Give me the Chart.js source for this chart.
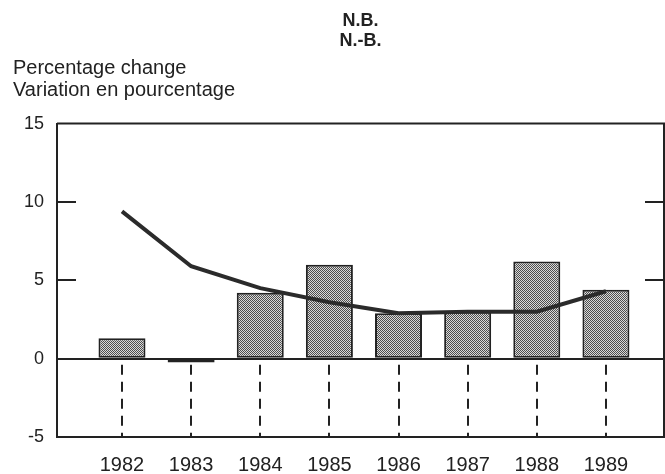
<!DOCTYPE html>
<html>
<head>
<meta charset="utf-8">
<script src="https://cdn.jsdelivr.net/npm/chart.js@4/dist/chart.umd.min.js"></script>
<style>
  html, body { margin: 0; padding: 0; background: #fff; }
  #wrap { width: 665px; height: 474px; position: relative; }
</style>
</head>
<body>
<div id="wrap"><canvas id="myChart"></canvas></div>
<script>
Chart.defaults.font.family = "'Liberation Sans', Arial, Helvetica, sans-serif";
Chart.defaults.color = "#222";

const years = [1982, 1983, 1984, 1985, 1986, 1987, 1988, 1989];
const barValues = [1.3, -0.25, 4.2, 6.0, 2.9, 3.0, 6.2, 4.4];
const lineValues = [9.4, 5.9, 4.5, 3.6, 2.9, 3.0, 3.0, 4.3];
const yTicks = [-5, 0, 5, 10, 15];
const innerTicks = [5, 10];

const ink = "#222";

// stippled grey fill like the printed bars
function makePattern() {
  const c = document.createElement("canvas");
  c.width = 4;
  c.height = 4;
  const p = c.getContext("2d");
  p.fillStyle = "#dadada";
  p.fillRect(0, 0, 4, 4);
  p.fillStyle = "#4e4e4e";
  for (let i = 0; i < 4; i++) {
    for (let j = 0; j < 4; j++) {
      if ((i + j) % 2 === 0) p.fillRect(i, j, 1, 1);
    }
  }
  return p.createPattern(c, "repeat");
}

const framePlugin = {
  id: "frame",
  beforeDatasetsDraw(chart) {
    const { ctx, chartArea: a, scales: { x, y } } = chart;
    ctx.save();
    ctx.strokeStyle = ink;
    ctx.lineWidth = 2;
    // dashed drop lines under the zero line
    ctx.setLineDash([10, 7]);
    years.forEach((v) => {
      const px = Math.round(x.getPixelForValue(v));
      ctx.beginPath();
      ctx.moveTo(px, y.getPixelForValue(0) + 6);
      ctx.lineTo(px, a.bottom);
      ctx.stroke();
    });
    ctx.restore();
  },
  afterDraw(chart) {
    const { ctx, chartArea: a, scales: { y } } = chart;
    ctx.save();
    ctx.strokeStyle = ink;
    ctx.lineWidth = 2;
    // top and right frame
    ctx.beginPath();
    ctx.moveTo(a.left, a.top);
    ctx.lineTo(a.right, a.top);
    ctx.lineTo(a.right, a.bottom);
    ctx.stroke();
    // inner tick marks on both sides
    innerTicks.forEach((v) => {
      const py = Math.round(y.getPixelForValue(v));
      ctx.beginPath();
      ctx.moveTo(a.left, py);
      ctx.lineTo(a.left + 19, py);
      ctx.moveTo(a.right - 19, py);
      ctx.lineTo(a.right, py);
      ctx.stroke();
    });
    ctx.restore();
  },
};

const ctx = document.getElementById("myChart");

const myChart = new Chart(ctx, {
  type: "bar",
  data: {
    datasets: [
      {
        type: "line",
        data: years.map((v, i) => ({ x: v, y: lineValues[i] })),
        borderColor: "#2b2b2b",
        borderWidth: 4,
        pointRadius: 0,
        tension: 0,
        order: 0,
      },
      {
        type: "bar",
        data: years.map((v, i) => ({ x: v, y: barValues[i] })),
        backgroundColor: (c) => (c.raw && c.raw.y < 0 ? ink : makePattern()),
        borderColor: ink,
        borderWidth: 2,
        borderSkipped: false,
        categoryPercentage: 1,
        barPercentage: 0.68,
        order: 1,
      },
    ],
  },
  options: {
    responsive: true,
    maintainAspectRatio: false,
    animation: false,
    layout: {
      padding: { left: 13, right: 1, top: 0, bottom: 0 },
    },
    plugins: {
      legend: { display: false },
      tooltip: { enabled: false },
      title: {
        display: true,
        text: ["N.B.", "N.-B."],
        fullSize: false,
        font: { size: 18, weight: "bold", lineHeight: 1.1 },
        padding: { top: 11, bottom: 0 },
      },
      subtitle: {
        display: true,
        text: ["Percentage change", "Variation en pourcentage"],
        align: "start",
        font: { size: 20, lineHeight: 1.1 },
        color: ink,
        padding: { top: 7, bottom: 22 },
      },
    },
    scales: {
      x: {
        type: "linear",
        min: 1981.06,
        max: 1989.84,
        offset: false,
        grid: { display: false, offset: false },
        border: { display: true, color: ink, width: 2 },
        afterBuildTicks: (scale) => {
          scale.ticks = years.map((v) => ({ value: v }));
        },
        afterFit: (scale) => {
          scale.height = 37;
        },
        ticks: {
          padding: 8,
          maxRotation: 0,
          autoSkip: false,
          font: { size: 20 },
          callback: (v) => String(v),
        },
      },
      y: {
        min: -5,
        max: 15,
        afterBuildTicks: (scale) => {
          scale.ticks = yTicks.map((v) => ({ value: v }));
        },
        afterFit: (scale) => {
          scale.width = 44;
        },
        grid: {
          drawTicks: false,
          color: (c) => (c.tick && c.tick.value === 0 ? ink : "rgba(0,0,0,0)"),
          lineWidth: 2,
        },
        border: { display: true, color: ink, width: 2 },
        ticks: {
          padding: 13,
          font: { size: 18 },
        },
      },
    },
  },
  plugins: [framePlugin],
});
</script>
</body>
</html>
